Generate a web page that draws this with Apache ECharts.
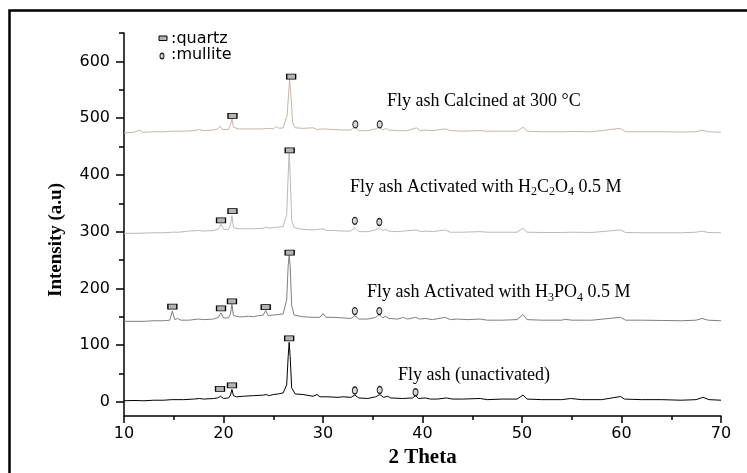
<!DOCTYPE html>
<html>
<head>
<meta charset="utf-8">
<script src="https://cdn.jsdelivr.net/npm/echarts@6/dist/echarts.min.js"></script>
<style>html,body{margin:0;padding:0;background:#fff}#c{width:747px;height:473px}</style>
</head>
<body>
<div id="c"></div>
<script>
// ---- data (2θ, intensity) ----
var unactivated = [[10,2],[11,2.5],[12,2],[13,3],[14,3],[14.8,4],[15,3],[16,4],[17,5],[17.6,6],[18,5],[19,6],[19.4,7],[19.7,10],[20,6],[20.5,7],[20.7,12],[20.85,22],[21,11],[21.3,9],[22,10],[23,11],[24,12],[24.3,13],[24.6,11],[25,13],[25.5,14],[26,16],[26.35,30],[26.5,80],[26.6,105],[26.7,80],[26.85,25],[27.2,14],[28,13],[29,10],[29.4,13],[29.7,9],[30.5,9],[31.5,8],[32,9],[32.8,8],[33.2,12],[33.6,7],[34.5,6],[35.3,9],[35.7,13],[36.1,8],[36.5,10],[36.8,7],[38,6],[39,7],[39.3,11],[39.6,6],[40.3,7],[40.8,5],[41.5,5],[42.4,7],[43,5],[44,5],[45.8,6],[46.5,4],[48,5],[49.5,5],[50.1,12],[50.5,5],[52,4],[54,4],[54.9,6],[56,4],[58,4],[59.9,9.5],[60.3,5],[62,4],[64,4],[66,3],[67.5,4],[68.2,8],[68.8,4],[70,3]];
var phosphoric = [[10,142],[11,142],[12,142],[13,143],[14,143],[14.6,144],[14.86,160],[15.1,145],[15.4,147],[15.7,144],[16.5,144],[17.5,146],[18,145],[19,146],[19.5,149],[19.75,157],[20,148],[20.5,148],[20.7,155],[20.85,172],[21,152],[21.5,150],[22,150],[22.5,151],[23,150],[23.5,152],[24,153],[24.24,161],[24.5,152],[25,153],[25.5,154],[26,155],[26.35,180],[26.5,240],[26.6,258],[26.7,240],[26.85,170],[27.1,153],[28,150],[29,149],[29.7,149],[30,156],[30.3,149],[31,149],[32,148],[32.8,147],[33.2,152],[33.6,146],[34.5,146],[35.3,149],[35.66,154],[36,148],[36.3,151],[36.6,147],[37.5,146],[38.1,149],[38.5,146],[39.3,149],[39.7,146],[40.3,147],[41,145],[42.3,149],[42.8,145],[43.5,146],[44.5,145],[45.8,146],[46.5,144],[48,144],[49.5,145],[50.1,154],[50.5,145],[52,144],[54,144],[54.3,145.5],[55,144],[57,144],[59.9,149],[60.4,144],[62,144],[64,143.5],[66,143],[67.5,144],[68.1,147],[68.7,144],[70,143]];
var oxalic = [[10,297],[11,297],[12,297.5],[13,298],[14,298],[14.8,299],[15.5,299],[16.5,301],[17.5,302],[18,301],[19,302],[19.5,305],[19.75,313],[20,304],[20.5,304],[20.7,312],[20.85,328],[21,307],[21.5,305],[22,305],[23,305],[24,306],[24.3,308],[24.6,306],[25,307],[25.5,308],[26,309],[26.35,330],[26.5,400],[26.6,438],[26.7,400],[26.85,320],[27.1,307],[28,304],[29,303],[30,305],[30.3,302],[31,302],[32,301],[32.8,301],[33.2,307],[33.6,300],[34.5,300],[35.3,303],[35.66,307],[36,302],[36.3,304],[36.6,301],[37.5,300],[38.1,301],[39.4,303],[39.8,300],[40.3,301],[41,300],[42.3,303],[42.8,299],[44,299],[45.8,300],[46.5,299],[48,299],[49.5,299],[50.1,306],[50.5,299],[52,298.5],[54,298.5],[55,299],[57,298.5],[59.9,303],[60.4,298.5],[62,298],[64,298],[66,298],[67.5,299],[68.1,301],[68.7,298.5],[70,298]];
var calcined = [[10,474],[11,475],[11.6,479],[11.9,475],[13,476],[14,476],[15,477],[16,477],[17,478],[17.6,480],[18,478],[19,479],[19.4,481],[19.65,486],[19.9,480],[20.5,480],[20.7,488],[20.85,499],[21,484],[21.5,481],[22,481],[23,481],[24,481],[24.5,482],[25,481],[25.3,485],[25.6,482],[26,483],[26.4,505],[26.55,545],[26.65,568],[26.75,545],[26.95,492],[27.2,483],[28,482],[29,483],[29.4,480],[30,481],[31,480],[32,479],[32.8,479],[33.2,485],[33.6,478],[34.5,478],[35.3,481],[35.66,485],[36,479],[36.3,482],[36.6,479],[37.5,478],[38.5,478],[39.4,483],[39.8,478],[40.3,479],[41,478],[42.3,481],[42.8,478],[44,477],[45.8,478],[46.5,477],[48,477],[49.5,477],[50.1,484],[50.5,477],[52,476],[54,476],[55,476.5],[57,476],[59.9,482],[60.4,476],[62,476],[64,476],[66,475.5],[67.5,476],[68.1,479],[68.7,476],[70,475]];

// phase markers
var quartzMarks = [[19.65,23],[20.85,29],[26.6,112],
  [14.86,168],[19.75,165],[20.85,177],[24.24,167],[26.65,263],
  [19.75,320],[20.9,336],[26.65,443],
  [20.9,504],[26.8,573]];
var mulliteMarks = [[33.2,20],[35.7,21],[39.3,17],
  [33.2,160],[35.66,160],
  [33.2,319],[35.66,317],
  [33.25,489],[35.7,489]];

var yTicks = [0,100,200,300,400,500,600];
var yMinorTicks = [50,150,250,350,450,550,650];

var serif = '"Liberation Serif","Times New Roman",serif';
var sans = '"DejaVu Sans",sans-serif';
var ellipsePath = 'path://M0,3A2,3,0,1,1,4,3A2,3,0,1,1,0,3Z';

function lineSeries(data, color){
  return {type:'line', data:data, showSymbol:false, symbol:'none', lineStyle:{color:color, width:1}, silent:true, animation:false, z:2};
}

var chart = echarts.init(document.getElementById('c'), null, {renderer:'canvas'});
chart.setOption({
  animation:false,
  backgroundColor:'#fff',
  grid:{left:124, right:26, top:33, bottom:56},
  xAxis:{type:'value', min:10, max:70, interval:10,
    axisLine:{show:true, onZero:false, lineStyle:{color:'#000', width:1.5}},
    axisTick:{show:true, length:7, lineStyle:{color:'#000', width:1.5}},
    minorTick:{show:true, splitNumber:2, length:4, lineStyle:{color:'#000', width:1.5}},
    splitLine:{show:false},
    axisLabel:{color:'#000', fontFamily:sans, fontSize:16, margin:10},
    name:'2 Theta', nameLocation:'middle', nameGap:23,
    nameTextStyle:{color:'#000', fontFamily:serif, fontWeight:'bold', fontSize:21}
  },
  yAxis:[{type:'value', min:-25, max:650,
    axisLine:{show:true, onZero:false, lineStyle:{color:'#000', width:1.5}},
    axisTick:{show:true, length:8, customValues:yTicks, lineStyle:{color:'#000', width:1.5}},
    axisLabel:{color:'#000', fontFamily:sans, fontSize:16, margin:14, customValues:yTicks},
    splitLine:{show:false}
  },{type:'value', min:-25, max:650, position:'left',
    axisLine:{show:false},
    axisTick:{show:true, length:5, customValues:yMinorTicks, lineStyle:{color:'#000', width:1.5}},
    axisLabel:{show:false},
    splitLine:{show:false}
  }],
  series:[
    lineSeries(unactivated, '#000000'),
    lineSeries(phosphoric, '#7f7f7f'),
    lineSeries(oxalic, '#b9b9b9'),
    lineSeries(calcined, '#c8b6a3'),
    {type:'scatter', data:quartzMarks, symbol:'rect', symbolSize:[9,5], silent:true, z:5,
     itemStyle:{color:'#b4b4b4', borderColor:'#000', borderWidth:1, opacity:1}},
    {type:'scatter', data:mulliteMarks, symbol:ellipsePath, symbolSize:[5,7], silent:true, z:5,
     itemStyle:{color:'#d8d8d8', borderColor:'#222', borderWidth:1.2, opacity:1}}
  ],
  graphic:[
    {type:'rect', shape:{x:9.5, y:10.5, width:800, height:600}, style:{fill:'none', stroke:'#000', lineWidth:2.5}, silent:true},
    // legend
    {type:'rect', shape:{x:159, y:36, width:8, height:4.5}, style:{fill:'#b4b4b4', stroke:'#000', lineWidth:1}},
    {type:'text', x:171, y:38.5, style:{text:':quartz', fontFamily:sans, fontSize:16, fill:'#000', verticalAlign:'middle'}},
    {type:'circle', x:162, y:56, scaleY:1.4, shape:{cx:0, cy:0, r:2}, style:{fill:'#d8d8d8', stroke:'#222', lineWidth:1}},
    {type:'text', x:171, y:55, style:{text:':mullite', fontFamily:sans, fontSize:16, fill:'#000', verticalAlign:'middle'}},
    // annotations
    {type:'text', x:387, y:101, style:{text:'Fly ash Calcined at 300 °C', fontFamily:serif, fontSize:18, fill:'#000', verticalAlign:'middle'}},
    {type:'text', x:350, y:187, style:{
      text:'{n|Fly ash Activated with H}{s|2}{n|C}{s|2}{n|O}{s|4}{n| 0.5 M}',
      verticalAlign:'middle',
      rich:{n:{fontFamily:serif, fontSize:18, fill:'#000'}, s:{fontFamily:serif, fontSize:12, fill:'#000', padding:[10,0,0,0]}}}},
    {type:'text', x:367, y:292.5, style:{
      text:'{n|Fly ash Activated with H}{s|3}{n|PO}{s|4}{n| 0.5 M}',
      verticalAlign:'middle',
      rich:{n:{fontFamily:serif, fontSize:18, fill:'#000'}, s:{fontFamily:serif, fontSize:12, fill:'#000', padding:[10,0,0,0]}}}},
    {type:'text', x:398, y:375, style:{text:'Fly ash (unactivated)', fontFamily:serif, fontSize:18, fill:'#000', verticalAlign:'middle'}},
    // y axis title
    {type:'text', x:56, y:240, rotation:Math.PI/2, style:{text:'Intensity (a.u)', fontFamily:serif, fontWeight:'bold', fontSize:19, fill:'#000', align:'center', verticalAlign:'middle'}}
  ]
});
</script>
</body>
</html>
